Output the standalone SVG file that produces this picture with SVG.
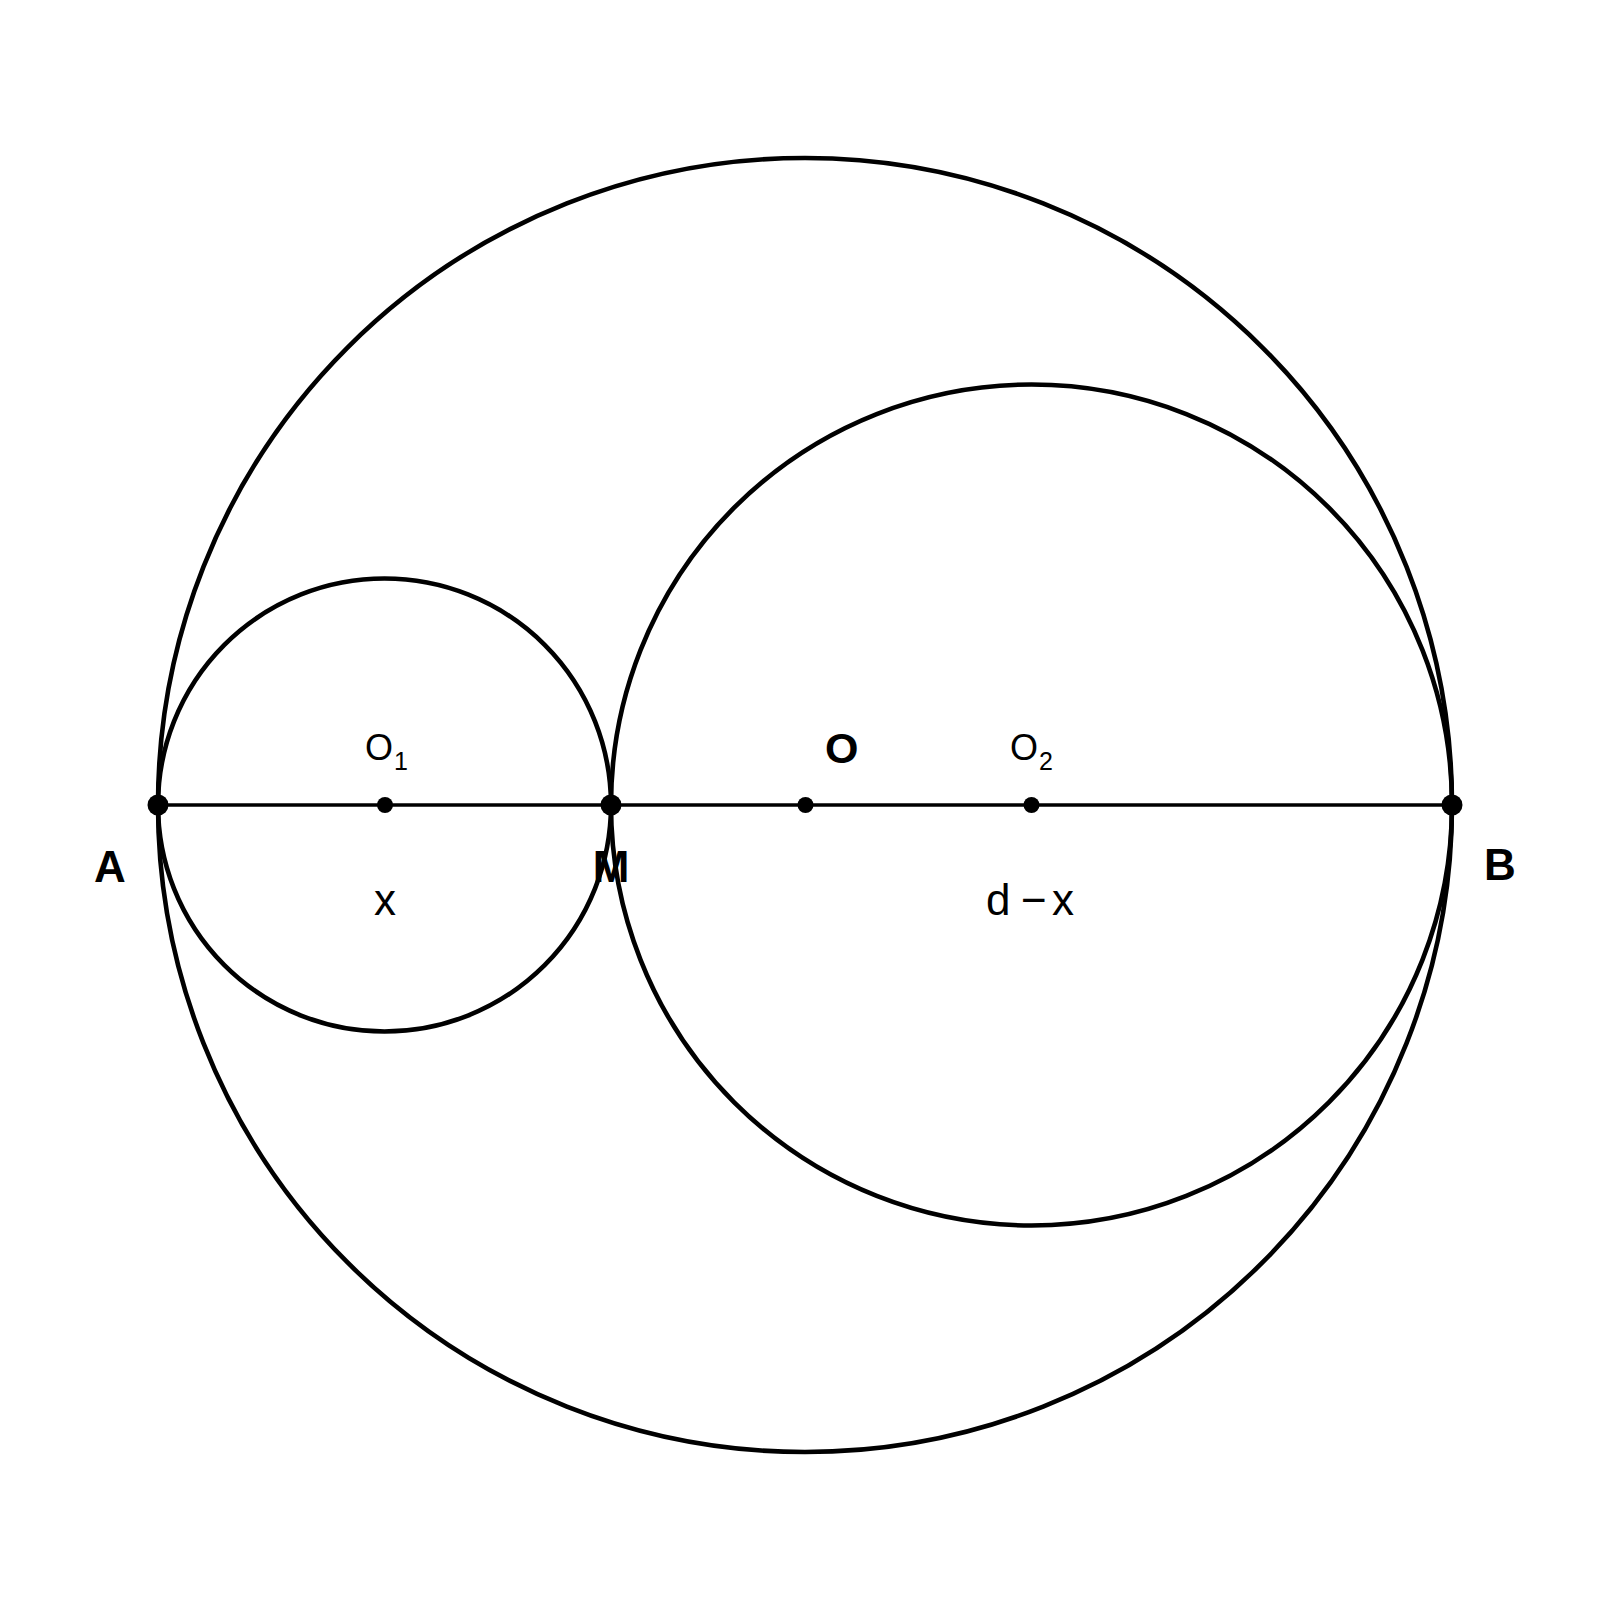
<svg xmlns="http://www.w3.org/2000/svg" width="1609" height="1609" viewBox="0 0 1609 1609">
<style>
.c{fill:none;stroke:#000;stroke-width:4.6}
.ln{stroke:#000;stroke-width:3.4}
.pt{fill:#000}
.lb{font-family:"Liberation Sans",Arial,sans-serif;fill:#000}
.bd{font-weight:bold;font-size:44px}
</style>
<rect width="1609" height="1609" fill="#fff"/>
<g id="circles">
<circle id="circle-O" class="c" cx="805" cy="805" r="647"/>
<circle id="circle-O1" class="c" cx="384.5" cy="805" r="226.5"/>
<circle id="circle-O2" class="c" cx="1031.5" cy="805" r="420.5"/>
</g>
<g id="connectors">
<line class="ln" x1="158" y1="805" x2="1452" y2="805"/>
</g>
<g id="A"><circle class="pt" cx="158" cy="805" r="10.5"/><text class="lb bd" x="110" y="882" text-anchor="middle">A</text></g>
<g id="M"><circle class="pt" cx="611" cy="805" r="10.5"/><text class="lb bd" x="611" y="882" text-anchor="middle">M</text></g>
<g id="B"><circle class="pt" cx="1452" cy="805" r="10.5"/><text class="lb bd" x="1500" y="880" text-anchor="middle">B</text></g>
<g id="O1"><circle class="pt" cx="385" cy="805" r="8"/><text class="lb" x="365" y="760" font-size="36">O</text><text class="lb" x="394" y="770" font-size="25">1</text></g>
<g id="O"><circle class="pt" cx="805.5" cy="805" r="8"/><text class="lb" x="825" y="763" font-size="43" font-weight="bold">O</text></g>
<g id="O2"><circle class="pt" cx="1031.5" cy="805" r="8"/><text class="lb" x="1010" y="760" font-size="36">O</text><text class="lb" x="1039" y="770" font-size="25">2</text></g>
<g id="labels">
<text class="lb" x="385" y="915" font-size="44" text-anchor="middle">x</text>
<text class="lb" y="915" font-size="44"><tspan x="986">d</tspan><tspan x="1021">−</tspan><tspan x="1052">x</tspan></text>
</g>
</svg>
